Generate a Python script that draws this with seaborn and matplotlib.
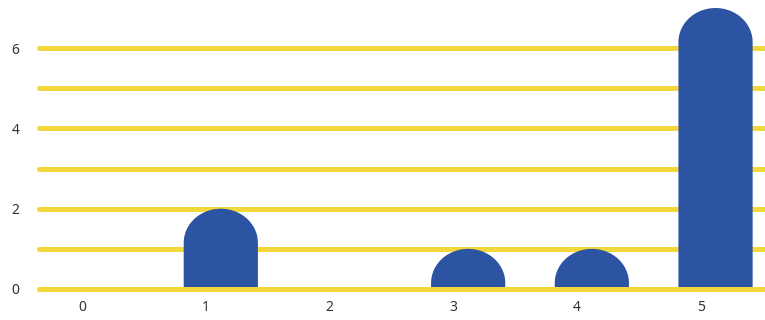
import matplotlib
matplotlib.use('Agg')

import numpy as np
import seaborn as sns
import matplotlib.pyplot as plt
from matplotlib.path import Path
from matplotlib.patches import PathPatch

# data
categories = ['0', '1', '2', '3', '4', '5']
counts = [0, 2, 0, 1, 1, 7]
y_major = [0, 2, 4, 6]
y_minor = [1, 3, 5]

BAR_COLOR = '#2c54a3'
GRID_COLOR = '#f3d83c'
TEXT_COLOR = '#333333'

sns.set_theme(style='white')
plt.rcParams['font.family'] = ['Noto Sans', 'DejaVu Sans']

fig = plt.figure(figsize=(7.65, 3.2), dpi=100)
ax = fig.add_axes([39 / 765, 27 / 320, 1 - 39 / 765, 289 / 320])

sns.barplot(x=categories, y=counts, color=BAR_COLOR, width=0.6,
            saturation=1, ax=ax)


def dome_path(x0, w, h, cap):
    """rectangle with a half-ellipse on top"""
    cap = min(cap, h)
    base = h - cap
    t = np.linspace(0, np.pi, 60)
    cx = x0 + w / 2
    xs = cx + (w / 2) * np.cos(t)
    ys = base + cap * np.sin(t)
    verts = [(x0 + w, 0), (x0 + w, base)] + list(zip(xs, ys)) + [(x0, 0), (x0 + w, 0)]
    codes = [Path.MOVETO] + [Path.LINETO] * (len(verts) - 2) + [Path.CLOSEPOLY]
    return Path(verts, codes)


# swap the flat bars for rounded-top ones, nudged a little right
offset = 0.12
for p in list(ax.patches):
    x, w, h = p.get_x(), p.get_width(), p.get_height()
    p.remove()
    if h <= 0:
        continue
    ax.add_patch(PathPatch(dome_path(x + offset, w, h, 0.85),
                           facecolor=BAR_COLOR, edgecolor='none', zorder=3))

ax.set_xlim(-0.35, 5.52)
ax.set_ylim(-0.1, 7.1)
ax.set_yticks(y_major)
ax.set_yticks(y_minor, minor=True)
ax.set_axisbelow(True)
ax.grid(axis='y', which='both', color=GRID_COLOR, linewidth=3.6)
ax.grid(axis='x', visible=False)
gridlines = [t.gridline for t in ax.yaxis.get_major_ticks()] + \
            [t.gridline for t in ax.yaxis.get_minor_ticks()]
for line in gridlines:
    line.set_solid_capstyle('round')
    line.set_clip_on(False)

# the zero line sits over the bar bottoms
ax.axhline(0, color=GRID_COLOR, linewidth=3.6, solid_capstyle='round',
           clip_on=False, zorder=4)

for s in ax.spines.values():
    s.set_visible(False)
ax.tick_params(axis='y', which='both', length=0, pad=14, labelsize=10, labelcolor=TEXT_COLOR)
ax.tick_params(axis='x', length=0, pad=5, labelsize=10, labelcolor=TEXT_COLOR)
ax.set_xlabel('')
ax.set_ylabel('')

fig.savefig('out.png', dpi=100)
